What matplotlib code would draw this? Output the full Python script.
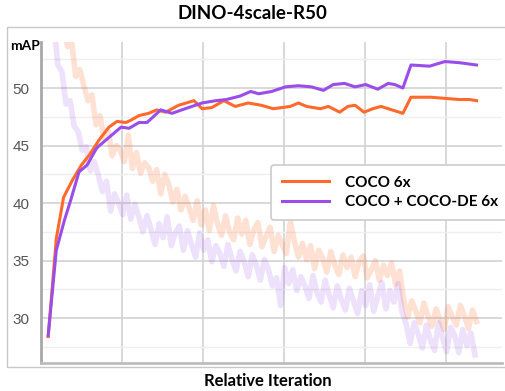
import matplotlib.pyplot as plt
import matplotlib.patches as patches
import numpy as np

plt.rcParams['font.family'] = ['Liberation Sans', 'DejaVu Sans']

# mAP curves (relative iteration, mAP)
coco_x = [0.09, 0.19, 0.28, 0.39, 0.50, 0.60, 0.72, 0.84, 0.94, 1.05, 1.11, 1.21, 1.33, 1.43, 1.54,
	1.70, 1.89, 1.99, 2.11, 2.26, 2.40, 2.56, 2.72, 2.87, 3.08, 3.18, 3.28, 3.45, 3.55, 3.69,
	3.79, 3.88, 3.99, 4.10, 4.20, 4.29, 4.47, 4.57, 4.81, 4.99, 5.17, 5.29, 5.38]
coco_map = [28.4, 36.9, 40.5, 42.0, 43.3, 44.2, 45.5, 46.6, 47.1, 47.0, 47.2, 47.6, 47.8, 48.1, 47.9,
	48.5, 48.9, 48.2, 48.3, 48.9, 48.4, 48.7, 48.5, 48.2, 48.4, 48.7, 48.4, 48.2, 48.4, 47.9,
	48.4, 48.5, 47.9, 48.2, 48.4, 48.2, 47.8, 49.2, 49.2, 49.1, 49.0, 49.0, 48.9]

de_x = [0.09, 0.19, 0.29, 0.37, 0.47, 0.57, 0.69, 0.84, 0.99, 1.09, 1.21, 1.31, 1.48, 1.62, 1.74,
	1.99, 2.16, 2.29, 2.46, 2.59, 2.69, 2.85, 3.02, 3.18, 3.34, 3.49, 3.61, 3.75, 3.88, 4.01,
	4.16, 4.29, 4.37, 4.47, 4.57, 4.80, 4.99, 5.17, 5.38]
de_map = [28.5, 35.9, 38.5, 40.3, 42.7, 43.3, 44.8, 45.7, 46.6, 46.5, 47.0, 47.0, 48.1, 47.8, 48.1,
	48.7, 48.9, 49.0, 49.3, 49.7, 49.5, 49.7, 50.1, 50.2, 50.1, 49.8, 50.3, 50.4, 50.1, 50.3,
	49.9, 50.4, 50.3, 50.0, 52.0, 51.9, 52.3, 52.2, 52.0]

# faded background curves (loss-like, same axis)
coco_bg = [55.5, 53.6, 54.0, 51.0, 51.6, 50.2, 48.9, 49.4, 46.8, 47.6,
	45.6, 46.3, 44.1, 45.0, 44.6, 43.6, 45.9, 43.0, 44.4, 42.6,
	43.5, 43.1, 41.9, 42.9, 40.8, 42.5, 41.6, 40.1, 41.2, 39.4,
	40.6, 39.6, 38.5, 40.2, 38.1, 39.4, 37.6, 39.8, 38.2, 37.2,
	38.9, 37.5, 36.8, 38.7, 37.3, 38.5, 36.4, 37.7, 38.3, 36.2,
	37.1, 37.9, 35.8, 37.2, 36.4, 35.6, 38.4, 36.7, 35.3, 36.5,
	35.1, 36.3, 34.3, 35.9, 35.2, 34.0, 35.8, 34.6, 33.8, 35.5,
	34.4, 35.3, 33.6, 34.9, 35.4, 33.5, 34.2, 35.0, 33.3, 34.6,
	33.7, 34.8, 32.9, 34.1, 31.6, 30.1, 31.5, 30.6, 29.6, 31.3,
	30.2, 29.3, 30.8, 29.9, 29.0, 31.0, 30.1, 29.4, 31.1, 30.2,
	29.1, 30.7, 29.7]
de_bg = [55.5, 52.0, 51.4, 48.6, 48.9, 46.7, 46.2, 44.6, 44.9, 42.8,
	43.6, 42.4, 41.0, 41.9, 39.3, 40.8, 40.0, 39.0, 40.7, 38.6,
	39.9, 38.8, 37.5, 38.9, 37.7, 36.4, 38.2, 37.0, 38.8, 36.3,
	37.4, 38.0, 35.9, 37.6, 36.4, 35.3, 37.4, 35.9, 36.8, 34.9,
	36.3, 35.6, 34.5, 36.4, 35.1, 34.1, 35.8, 34.9, 33.6, 35.5,
	34.6, 33.3, 35.1, 34.2, 32.8, 33.5, 31.1, 34.4, 33.0, 34.2,
	32.4, 33.6, 32.8, 31.7, 33.7, 32.2, 31.4, 33.3, 32.0, 30.9,
	32.8, 31.6, 30.7, 32.6, 31.5, 30.4, 32.4, 31.1, 32.9, 30.6,
	31.9, 33.1, 30.8, 32.4, 31.4, 33.0, 30.5, 29.5, 27.8, 29.6,
	28.6, 27.4, 29.4, 28.1, 27.2, 29.6, 28.3, 27.1, 29.2, 28.5,
	27.0, 29.0, 27.6, 28.7, 26.8]
coco_bg_x = np.linspace(0.28, 5.38, len(coco_bg))
de_bg_x = np.linspace(0.16, 5.36, len(de_bg))

Labels = ['COCO 6x', 'COCO + COCO-DE 6x']
Colors = ['#ff6a2c', '#9a4de8']

fig = plt.figure(figsize=(5.05, 3.91), dpi=100)
ax = fig.add_axes([0.081, 0.0716, 0.914, 0.821])

# outer frame
fig.patches.append(patches.Rectangle((0.0139, 0.0614), 1.0, 0.8696, transform=fig.transFigure,
	fill=False, edgecolor='#c8c8c8', linewidth=1.0, zorder=0))

ax.plot(coco_bg_x, coco_bg, color=Colors[0], alpha=0.2, linewidth=4.0, zorder=1)
ax.plot(de_bg_x, de_bg, color=Colors[1], alpha=0.17, linewidth=4.0, zorder=1)
ax.plot(coco_x, coco_map, color=Colors[0], linewidth=2.2, label=Labels[0], zorder=3)
ax.plot(de_x, de_map, color=Colors[1], linewidth=2.2, label=Labels[1], zorder=3)

ax.set_xlim(0, 5.7)
ax.set_ylim(26.1, 54.0)
ax.set_yticks([30, 35, 40, 45, 50])
ax.set_yticks([27.5, 32.5, 37.5, 42.5, 47.5, 52.5], minor=True)
ax.set_xticks([1, 2, 3, 4, 5])
ax.set_xticklabels([])
ax.tick_params(axis='both', which='both', length=0)
ax.tick_params(axis='y', labelsize=11, labelcolor='#555555', pad=8)
ax.grid(True, which='major', color='#d2d2d2', linewidth=1.2)
ax.grid(True, which='minor', axis='y', color='#efefef', linewidth=1.0)
ax.set_axisbelow(True)

for s in ['top', 'right']:
	ax.spines[s].set_visible(False)
ax.spines['left'].set_color('#a8a8a8')
ax.spines['left'].set_linewidth(2)
ax.spines['bottom'].set_color('#bdbdbd')
ax.spines['bottom'].set_linewidth(2)

fig.text(0.5, 0.965, 'DINO-4scale-R50', ha='center', va='center', fontsize=13.5, fontweight='bold', family='Lato')
fig.text(0.02, 0.882, 'mAP', ha='left', va='center', fontsize=10, fontweight='bold', family='Lato')
fig.text(0.53, 0.025, 'Relative Iteration', ha='center', va='center', fontsize=12, fontweight='bold', family='Lato')

leg = fig.legend(loc='upper left', bbox_to_anchor=(0.522, 0.598), prop={'family': 'Lato', 'weight': 'bold', 'size': 11},
	handlelength=3.1, handletextpad=1.0, labelspacing=0.35, borderpad=0.7, fancybox=True, framealpha=1)
leg.get_frame().set_edgecolor('#cccccc')
leg.get_frame().set_linewidth(1.2)

plt.savefig('out.png', dpi=100)
